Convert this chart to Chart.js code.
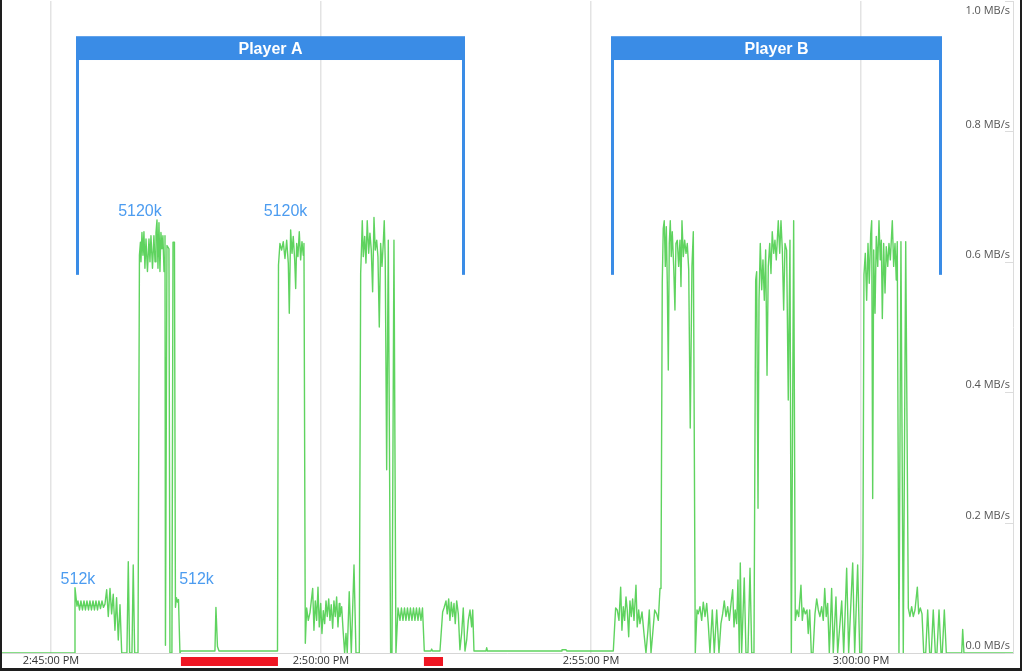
<!DOCTYPE html>
<html>
<head>
<meta charset="utf-8">
<script src="https://cdn.jsdelivr.net/npm/chart.js@4.4.1/dist/chart.umd.min.js"></script>
<style>
  html, body { margin: 0; padding: 0; background: #fff; }
  canvas { display: block; }
</style>
</head>
<body>
<canvas id="throughput" width="1024" height="671"></canvas>
<script>
// ---- axis (seconds after 2:45:00 PM) ----
const viewStart  = -54.4;
const viewEnd    = 1068.9;
const tickTimes  = [0, 300, 600, 900];
const tickLabels = ['2:45:00 PM', '2:50:00 PM', '2:55:00 PM', '3:00:00 PM'];
const rateTicks  = [0, 0.2, 0.4, 0.6, 0.8, 1.0];

// ---- throughput samples: time (s) / rate (MB/s) ----
const sampleTimes = [
  -55, 25.6, 26.7, 28.9, 30.0, 31.7, 33.3, 35.0, 36.7, 38.3, 40.0, 41.7, 43.3, 45.0, 46.7, 48.3,
  50.0, 51.7, 53.3, 55.0, 56.7, 58.3, 60.0, 61.9, 63.7, 65.6, 67.4, 69.2, 71.1, 72.9, 74.8, 76.7,
  78.6, 84.4, 85.9, 87.4, 90.0, 91.4, 93.0, 96.7, 98.3, 99.4,
  100.0, 101.1, 102.2, 103.3, 104.4, 105.6, 107.2, 108.9, 110.0, 111.1, 112.8, 114.4, 115.6, 116.7,
  117.8, 118.9, 120.0, 121.1, 122.2, 123.3, 124.4, 125.6, 126.7, 127.2, 128.9, 131.1, 132.2, 134.4,
  135.6, 137.2, 138.3, 139.4, 140.6, 141.7, 143.3, 144.4, 182.2, 183.3, 185.0, 186.7,
  251.7, 252.8, 254.4, 256.3, 258.1, 260.0, 261.9, 263.7, 264.8, 266.3, 267.8, 269.2, 270.8, 271.9,
  273.0, 274.4, 275.9, 277.4, 278.9, 280.3, 281.1, 282.6, 284.1, 285.9, 287.8, 290.8, 292.2, 293.7,
  295.2, 296.7, 298.1, 299.7, 301.1, 302.6, 304.1, 305.6, 307.0, 308.6, 310.0, 311.4, 313.0, 314.4,
  315.9, 317.4, 318.9, 320.3, 321.1, 323.0, 324.8, 326.3, 327.8, 329.2, 331.4, 333.7, 336.7, 338.9,
  342.6, 344.1, 345.2, 345.9, 347.0, 348.6, 350.0, 351.4, 353.0, 354.4, 355.9, 357.4, 358.9, 360.3,
  361.9, 363.3, 364.8, 366.3, 367.8, 369.2, 370.3, 371.4, 373.0, 374.8, 377.4, 378.9, 381.1, 383.3,
  385.6, 387.8, 389.4, 391.1, 392.8, 394.4, 396.1, 397.8, 399.4, 401.1, 402.8, 404.4, 406.1, 407.8,
  409.4, 411.1, 412.8, 414.8, 422.2, 423.0, 423.9, 432.2, 435.2, 436.7, 438.9, 440.3, 441.9, 443.3,
  444.8, 446.3, 447.8, 449.2, 450.8, 452.6, 454.4, 456.3, 458.1, 460.0, 461.9, 463.7, 465.6, 467.4,
  468.6, 470.0, 483.3, 484.1, 485.0, 566.7, 567.8, 572.2, 573.3,
  624.8, 627.4, 629.2, 631.1, 633.0, 634.4, 635.9, 637.4, 638.9, 640.3, 641.9, 643.3, 644.8, 646.3,
  647.8, 650.0, 651.4, 653.0, 654.4, 656.7, 658.9, 661.1, 663.3, 664.8, 666.7, 668.6, 670.8, 673.0,
  674.8, 676.7, 677.8, 679.2, 680.3, 681.4, 682.6, 683.7, 684.8, 685.9, 687.0, 688.1, 689.2, 690.3,
  691.9, 693.3, 694.4, 695.9, 697.4, 698.9, 700.0, 701.1, 702.6, 704.1, 705.6, 707.0, 708.6, 710.3,
  712.2, 713.7, 715.9, 717.8, 719.2, 721.1, 723.0, 724.8, 726.7, 728.6, 730.3, 732.2, 734.8, 737.0,
  739.7, 742.2, 744.4, 746.3, 748.1, 750.0, 751.9, 753.7, 755.6, 757.4, 758.9, 760.3, 761.9, 763.3,
  764.8, 765.9, 767.4, 770.3, 772.2, 774.4, 776.7, 778.6, 781.1, 783.0, 784.1, 785.6, 786.7, 788.1,
  789.7, 791.1, 792.6, 794.1, 795.6, 797.0, 798.6, 800.0, 801.4, 803.0, 804.4, 805.9, 808.1, 809.7,
  811.1, 812.6, 814.1, 815.6, 817.4, 819.2, 821.1, 822.6, 825.2, 827.0, 828.9, 830.8, 833.3, 834.8,
  836.3, 838.1, 840.0, 841.4, 843.0, 844.8, 846.7, 848.9, 850.8, 852.6, 854.4, 856.3, 858.1, 859.7,
  861.4, 863.0, 864.8, 867.4, 869.2, 872.2, 874.1, 878.6, 880.8, 884.1, 886.3, 890.8, 893.0, 896.3,
  898.6, 900.8, 902.2, 903.3, 904.8, 906.3, 907.8, 909.2, 910.8, 911.9, 913.0, 914.1, 915.6, 917.0,
  918.6, 920.0, 921.4, 922.6, 923.7, 925.2, 926.7, 928.1, 929.7, 931.1, 932.6, 934.8, 936.3, 937.8,
  939.2, 940.3, 942.2, 944.4, 947.0, 949.7, 952.6, 954.4, 956.3, 958.1, 960.0, 962.6, 964.1, 965.9,
  967.8, 969.7, 971.9, 974.1, 976.3, 978.1, 980.3, 982.6, 984.4, 986.7, 988.9, 990.3, 992.6, 994.8,
  1011.9, 1013.0, 1014.4, 1070
];
const rates = [
  0, 0, 0.10, 0.072, 0.08, 0.066, 0.08, 0.066, 0.08, 0.066, 0.08, 0.066, 0.08, 0.066, 0.08, 0.066,
  0.08, 0.066, 0.08, 0.068, 0.08, 0.07, 0.075, 0.097, 0.056, 0.099, 0.06, 0.09, 0.035, 0.085, 0.02, 0.074,
  0, 0, 0.14, 0, 0, 0.135, 0, 0, 0.61, 0.63,
  0.60, 0.645, 0.61, 0.646, 0.59, 0.635, 0.585, 0.635, 0.60, 0.64, 0.59, 0.64, 0.60, 0.645,
  0.664, 0.59, 0.66, 0.585, 0.645, 0.62, 0.64, 0.585, 0.64, 0.012, 0.625, 0.62, 0, 0,
  0.63, 0.63, 0.07, 0.085, 0.078, 0.082, 0, 0.003, 0.003, 0.07, 0.01, 0.003,
  0.003, 0.595, 0.628, 0.618, 0.631, 0.605, 0.633, 0.598, 0.521, 0.649, 0.613, 0.639, 0.603, 0.559,
  0.628, 0.608, 0.646, 0.603, 0.631, 0.61, 0.628, 0.015, 0.069, 0.05, 0.062, 0.099, 0.035, 0.08,
  0.05, 0.101, 0.04, 0.076, 0.03, 0.065, 0.045, 0.08, 0.056, 0.083, 0.05, 0.074, 0.038, 0.08,
  0.056, 0.086, 0.04, 0.076, 0.056, 0.071, 0.03, 0, 0.03, 0, 0.094, 0, 0.135, 0,
  0, 0.582, 0.628, 0.663, 0.608, 0.639, 0.598, 0.663, 0.613, 0.644, 0.618, 0.554, 0.668, 0.618,
  0.633, 0.608, 0.5, 0.628, 0.593, 0.628, 0.663, 0.603, 0.281, 0.633, 0, 0, 0.633, 0,
  0.069, 0.05, 0.069, 0.05, 0.069, 0.05, 0.069, 0.05, 0.069, 0.05, 0.069, 0.05, 0.069, 0.05,
  0.069, 0.05, 0.069, 0.003, 0.003, 0.006, 0.003, 0.003, 0.063, 0.069, 0.08, 0.06, 0.083, 0.05,
  0.078, 0.056, 0.076, 0.045, 0.08, 0.06, 0.005, 0.03, 0.069, 0.003, 0.02, 0.05, 0.066, 0.04,
  0.066, 0.003, 0.003, 0.008, 0.003, 0.003, 0.005, 0.005, 0.003,
  0.003, 0.069, 0.066, 0.05, 0.101, 0.035, 0.071, 0.05, 0.086, 0.066, 0.025, 0.08, 0.056, 0.083,
  0.05, 0.104, 0.04, 0.066, 0.045, 0.063, 0.03, 0, 0.035, 0.066, 0, 0.03, 0.066, 0.06,
  0.05, 0.099, 0.107, 0.567, 0.651, 0.663, 0.593, 0.654, 0.567, 0.434, 0.628, 0.663, 0.608, 0.646,
  0.593, 0.526, 0.628, 0.633, 0.593, 0.633, 0.562, 0.663, 0.608, 0.633, 0.613, 0.628, 0.588, 0.345,
  0.593, 0.646, 0, 0.066, 0.06, 0.071, 0.05, 0.078, 0.056, 0.076, 0.045, 0, 0.066, 0,
  0.066, 0, 0.045, 0.06, 0.08, 0.056, 0.071, 0.05, 0.076, 0.097, 0.04, 0.066, 0.045, 0.112,
  0, 0.138, 0, 0.115, 0, 0, 0.13, 0, 0, 0.572, 0.585, 0.222, 0.541, 0.628,
  0.557, 0.603, 0.541, 0.618, 0.426, 0.593, 0.628, 0.582, 0.646, 0.613, 0.633, 0.603, 0.663, 0.613,
  0.663, 0.618, 0.526, 0.628, 0.618, 0.388, 0.633, 0, 0.663, 0.05, 0.066, 0.056, 0.104, 0.05,
  0.069, 0.06, 0.066, 0.03, 0.066, 0, 0, 0.06, 0.083, 0.066, 0.056, 0.071, 0.05, 0.099,
  0.056, 0.076, 0, 0.099, 0, 0.086, 0, 0.08, 0, 0.13, 0, 0.138, 0, 0.135,
  0, 0, 0.153, 0.58, 0.613, 0.541, 0.628, 0.567, 0.643, 0.663, 0.237, 0.618, 0.521, 0.639,
  0.593, 0.663, 0.603, 0.633, 0.513, 0.628, 0.552, 0.623, 0.593, 0.628, 0.603, 0.663, 0.593, 0.628,
  0.572, 0.631, 0, 0.631, 0, 0.631, 0.069, 0.056, 0.071, 0.056, 0.066, 0.101, 0.06, 0.069,
  0.06, 0, 0, 0.066, 0, 0, 0.066, 0, 0, 0.066, 0, 0, 0.066, 0,
  0, 0.036, 0, 0
];

// ---- annotations ----
const playerNames  = ['Player A', 'Player B'];
const playerStart  = [27.8, 622.2];
const playerEnd    = [460.0, 990.0];

const qualityLabels = ['512k', '5120k', '512k', '5120k'];
const qualityTimes  = [30.0, 98.9, 161.7, 260.6];
const qualityLevels = [0.112, 0.677, 0.112, 0.677];

const stallStart = [144.4, 414.4];
const stallEnd   = [252.2, 435.6];

// ---- styles ----
const LINE_GREEN   = 'rgba(78, 206, 78, 0.9)';
const BRACKET_BLUE = '#3a8ce6';
const LABEL_BLUE   = '#4c9cf0';
const STALL_RED    = '#ef1623';
const AXIS_FONT    = '"Open Sans", "Liberation Sans", sans-serif';
const BRACKET_TOP  = 0.946;   // top of the bar
const BRACKET_BAR  = 0.9095;  // bottom of the bar
const BRACKET_FOOT = 0.58;    // end of the legs

const points = sampleTimes.map((t, i) => ({ x: t, y: rates[i] }));

const overlay = {
  id: 'overlay',
  afterDatasetsDraw(chart) {
    const { ctx, chartArea: ca, scales: { x, y } } = chart;
    ctx.save();

    // brackets per player
    playerNames.forEach((name, i) => {
      const x0 = Math.round(x.getPixelForValue(playerStart[i]));
      const x1 = Math.round(x.getPixelForValue(playerEnd[i]));
      const yTop = y.getPixelForValue(BRACKET_TOP);
      const yBar = y.getPixelForValue(BRACKET_BAR);
      const yFoot = y.getPixelForValue(BRACKET_FOOT);
      ctx.fillStyle = BRACKET_BLUE;
      ctx.fillRect(x0, yTop, x1 - x0, yBar - yTop);
      ctx.fillRect(x0, yBar, 3, yFoot - yBar);
      ctx.fillRect(x1 - 3, yBar, 3, yFoot - yBar);
      ctx.fillStyle = '#fff';
      ctx.font = 'bold 16px "Liberation Sans", Arial, sans-serif';
      ctx.textAlign = 'center';
      ctx.textBaseline = 'middle';
      ctx.fillText(name, (x0 + x1) / 2, (yTop + yBar) / 2 + 1);
    });

    // bitrate labels
    ctx.fillStyle = LABEL_BLUE;
    ctx.font = '16px "Liberation Sans", Arial, sans-serif';
    ctx.textAlign = 'center';
    ctx.textBaseline = 'middle';
    qualityLabels.forEach((txt, i) => {
      ctx.fillText(txt, x.getPixelForValue(qualityTimes[i]), y.getPixelForValue(qualityLevels[i]));
    });
    ctx.restore();
  },
  afterDraw(chart) {
    const { ctx, chartArea: ca, scales: { x, y } } = chart;
    ctx.save();

    // y labels sit just above their value, inside the plot
    ctx.font = '11px ' + AXIS_FONT;
    ctx.fillStyle = '#555';
    ctx.textAlign = 'right';
    ctx.textBaseline = 'middle';
    ctx.strokeStyle = '#dcdcdc';
    ctx.lineWidth = 1;
    y.ticks.forEach(t => {
      const py = y.getPixelForValue(t.value);
      ctx.beginPath();
      ctx.moveTo(ca.right - 8, Math.round(py) + 0.5);
      ctx.lineTo(ca.right, Math.round(py) + 0.5);
      ctx.stroke();
      ctx.fillText(t.value.toFixed(1) + ' MB/s', ca.right - 3, Math.max(py - 7, ca.top + 10));
    });

    // stall markers under the axis
    ctx.fillStyle = STALL_RED;
    stallStart.forEach((s, i) => {
      const a = x.getPixelForValue(s);
      const b = x.getPixelForValue(stallEnd[i]);
      ctx.fillRect(a, ca.bottom + 4, b - a, 9);
    });

    // outer frame
    ctx.fillStyle = '#1e1e1e';
    ctx.fillRect(0, 0, 2, 670);
    ctx.fillRect(1020, 0, 2, 670);
    ctx.fillRect(0, 668, 1022, 3);
    ctx.restore();
  }
};

new Chart(document.getElementById('throughput').getContext('2d'), {
  type: 'line',
  data: {
    datasets: [{
      data: points,
      borderColor: LINE_GREEN,
      borderWidth: 1.4,
      borderJoinStyle: 'round',
      pointRadius: 0,
      tension: 0,
      fill: false
    }]
  },
  options: {
    responsive: false,
    animation: false,
    plugins: { legend: { display: false }, tooltip: { enabled: false } },
    layout: { padding: { left: 2, right: 11, top: 1, bottom: 0 } },
    scales: {
      x: {
        type: 'linear',
        min: viewStart,
        max: viewEnd,
        afterBuildTicks: scale => { scale.ticks = tickTimes.map(v => ({ value: v })); },
        afterFit: scale => { scale.height = 18; },
        ticks: {
          callback: v => tickLabels[tickTimes.indexOf(v)],
          font: { size: 11, family: AXIS_FONT },
          color: '#333',
          padding: 1,
          maxRotation: 0,
          autoSkip: false
        },
        grid: { color: '#e3e3e3', lineWidth: 1.5, drawTicks: false },
        border: { color: '#d6d6d6' }
      },
      y: {
        position: 'right',
        min: 0,
        max: 1,
        afterBuildTicks: scale => { scale.ticks = rateTicks.map(v => ({ value: v })); },
        afterFit: scale => { scale.width = 0; },
        ticks: { display: false },
        grid: { display: false, drawTicks: false },
        border: { display: true, color: '#dcdcdc' }
      }
    }
  },
  plugins: [overlay]
});
</script>
</body>
</html>
